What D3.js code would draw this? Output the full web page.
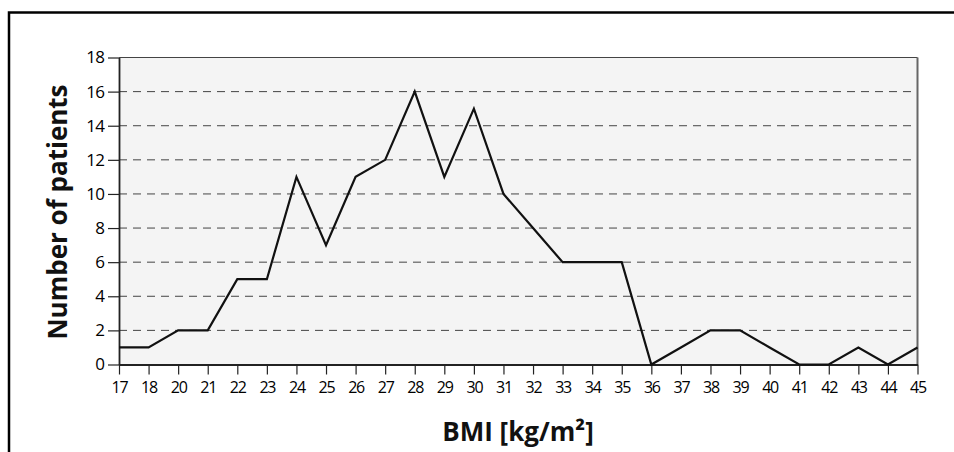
<!DOCTYPE html>
<html><head><meta charset="utf-8">
<script src="https://cdn.jsdelivr.net/npm/d3@7"></script>
<style>body{margin:0;background:#fff}svg{display:block}</style>
</head><body>
<svg id="c" width="954" height="452"></svg>
<script>
const categories = ["17","18","20","21","22","23","24","25","26","27","28","29","30","31","32","33","34","35","36","37","38","39","40","41","42","43","44","45"];
const patients = [1,1,2,2,5,5,11,7,11,12,16,11,15,10,8,6,6,6,0,1,2,2,1,0,0,1,0,1];
const yTicks = [0,2,4,6,8,10,12,14,16,18];

const svg = d3.select("#c");
const L = 119, R = 917.5, T = 57.5, B = 364.5;
const x = d3.scalePoint().domain(categories).range([L, R]);
const y = d3.scaleLinear().domain([0, 18]).range([B, T]);
const tickFont = "'Open Sans',sans-serif";

// outer frame
svg.append("path").attr("d", `M9,452 V12.5 H954`).attr("fill","none").attr("stroke","#000").attr("stroke-width",2.5);

// plot background
svg.append("rect").attr("x",L).attr("y",T).attr("width",R-L).attr("height",B-T).attr("fill","#f4f4f4");

// gridlines
svg.append("g").selectAll("line").data(yTicks.filter(d=>d>0 && d<18)).join("line")
  .attr("x1",L).attr("x2",R).attr("y1",d=>y(d)).attr("y2",d=>y(d))
  .attr("stroke","#444").attr("stroke-width",1).attr("stroke-dasharray","8,6");

// top and right borders
svg.append("line").attr("x1",L).attr("x2",R).attr("y1",T).attr("y2",T).attr("stroke","#444").attr("stroke-width",1.2);
svg.append("line").attr("x1",R).attr("x2",R).attr("y1",T).attr("y2",B).attr("stroke","#666").attr("stroke-width",2);

// y axis
const ya = svg.append("g").attr("transform",`translate(${L},0)`)
  .call(d3.axisLeft(y).tickValues(yTicks).tickSize(11).tickPadding(4).tickSizeOuter(0));
ya.select(".domain").attr("stroke","#222").attr("stroke-width",1.8);
ya.selectAll(".tick line").attr("stroke","#222").attr("stroke-width",1.2);
ya.selectAll("text").attr("font-family",tickFont).attr("font-size",17).attr("letter-spacing",-0.9).attr("fill","#000");

// x axis
const xa = svg.append("g").attr("transform",`translate(0,${B})`)
  .call(d3.axisBottom(x).tickSize(10).tickPadding(7).tickSizeOuter(0));
xa.select(".domain").attr("stroke","#222").attr("stroke-width",2);
xa.selectAll(".tick line").attr("stroke","#222").attr("stroke-width",1.2);
xa.selectAll("text").attr("font-family",tickFont).attr("font-size",16).attr("letter-spacing",-1.2).attr("fill","#000");

// line
svg.append("path").datum(patients)
  .attr("d", d3.line().x((d,i)=>x(categories[i])).y(d=>y(d)))
  .attr("fill","none").attr("stroke","#111").attr("stroke-width",2.2).attr("stroke-linejoin","miter");

// axis titles
svg.append("text").attr("x",518).attr("y",441).attr("text-anchor","middle")
  .attr("font-family","'Open Sans',sans-serif").attr("font-weight","bold").attr("font-size",26).attr("fill","#111")
  .text("BMI [kg/m²]");
svg.append("text").attr("transform","translate(67,212) rotate(-90)").attr("text-anchor","middle")
  .attr("font-family","'Open Sans',sans-serif").attr("font-weight","bold").attr("font-size",26).attr("fill","#111")
  .text("Number of patients");
</script>
</body></html>
